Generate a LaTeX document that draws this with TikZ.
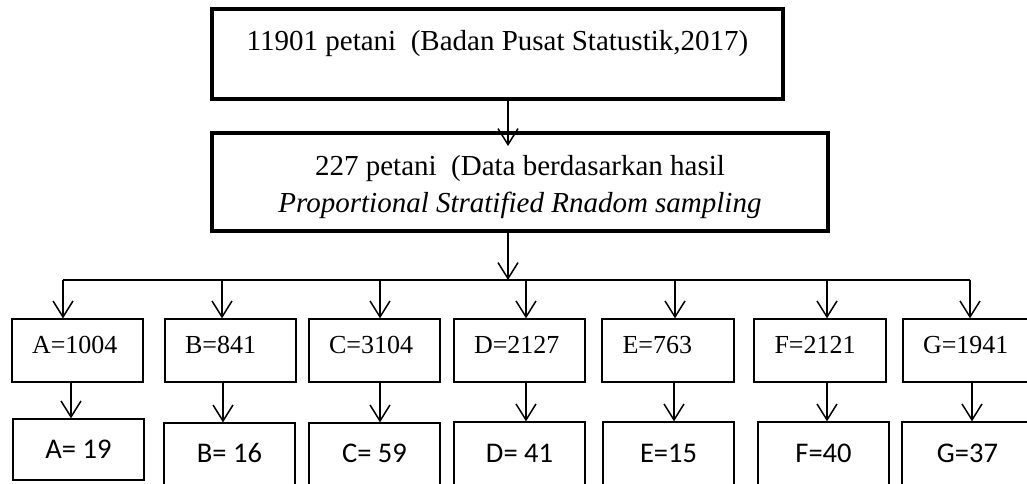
\documentclass[tikz,border=0pt]{standalone}
\usepackage{fontspec}
\setmainfont{Liberation Serif}
\newfontfamily\calibrifont{Carlito}
\usetikzlibrary{arrows.meta}
\begin{document}
\begin{tikzpicture}[x=1pt,y=-1pt,
  conn/.style={line width=1.5pt},
  arr/.style={conn,-{Straight Barb[length=16pt,width=20pt]}},
  bigbox/.style={draw,line width=4pt,inner sep=0pt},
  bigtext/.style={font=\fontsize{29}{34}\selectfont,inner sep=0pt,anchor=base},
  rowone/.style={draw,line width=1.3pt,inner sep=0pt,minimum width=131pt,minimum height=63pt,
    text width=91pt,align=left,text height=9pt,text depth=4pt,font=\fontsize{26}{30}\selectfont},
  rowtwo/.style={draw,line width=1.3pt,inner sep=0pt,minimum width=131pt,
    text height=14pt,text depth=4pt,font=\calibrifont\fontsize{28.5}{32}\selectfont}]
\useasboundingbox (0,0) rectangle (1027,483);
\clip (0,0) rectangle (1027,483);

% top boxes
\node[bigbox,minimum width=571pt,minimum height=90pt,text height=0pt,text depth=8pt,
  font=\fontsize{29}{34}\selectfont] (top) at (497.5,54) {11901 petani\ \ (Badan Pusat Statustik,2017)};
\node[bigbox,minimum width=616pt,minimum height=98pt] (box2) at (520,182) {};
\node[bigtext] (box2a) at (520,175) {227 petani\ \ (Data berdasarkan hasil};
\node[bigtext] (box2b) at (520,212) {\itshape Proportional Stratified Rnadom sampling};

% row 1
\node[rowone] (A1) at (77.5,350.5) {A=1004};
\node[rowone] (B1) at (230.5,350.5) {B=841};
\node[rowone] (C1) at (374.5,350.5) {C=3104};
\node[rowone] (D1) at (519.5,350.5) {D=2127};
\node[rowone,minimum width=132pt] (E1) at (668,350.5) {E=763};
\node[rowone,minimum width=132pt] (F1) at (820,350.5) {F=2121};
\node[rowone] (G1) at (968.5,350.5) {G=1941};

% row 2
\node[rowtwo,minimum height=61pt,text height=21pt] (A2) at (78.5,449.5) {A= 19};
\node[rowtwo,minimum height=69pt] (B2) at (229.5,457.5) {B= 16};
\node[rowtwo,minimum height=69pt] (C2) at (374.5,457.5) {C= 59};
\node[rowtwo,minimum height=70pt] (D2) at (519.5,457) {D= 41};
\node[rowtwo,minimum height=70pt] (E2) at (668.5,457) {E=15};
\node[rowtwo,minimum height=70pt] (F2) at (823.5,457) {F=40};
\node[rowtwo,minimum height=70pt] (G2) at (967.5,457) {G=37};

% connectors
\coordinate (p0) at (508,146);
\draw[arr] (top.south -| p0) -- (p0);
\coordinate (bus) at (508,280);
\draw[arr] (box2.south -| bus) -- (bus);
\coordinate (busL) at (63,280);
\coordinate (busR) at (970,280);
\draw[conn] (busL) -- (busR);

\foreach \n/\x in {A/63,B/222,C/380,D/526,E/675,F/827,G/970}{
  \coordinate (d\n) at (\x,280);
  \draw[arr] (d\n) -- (d\n |- \n1.north);
}
\foreach \n/\x in {A/71,B/223,C/380,D/526,E/674,F/827,G/972}{
  \coordinate (e\n) at (\x,400);
  \draw[arr] (\n1.south -| e\n) -- (e\n |- \n2.north);
}
\end{tikzpicture}
\end{document}
